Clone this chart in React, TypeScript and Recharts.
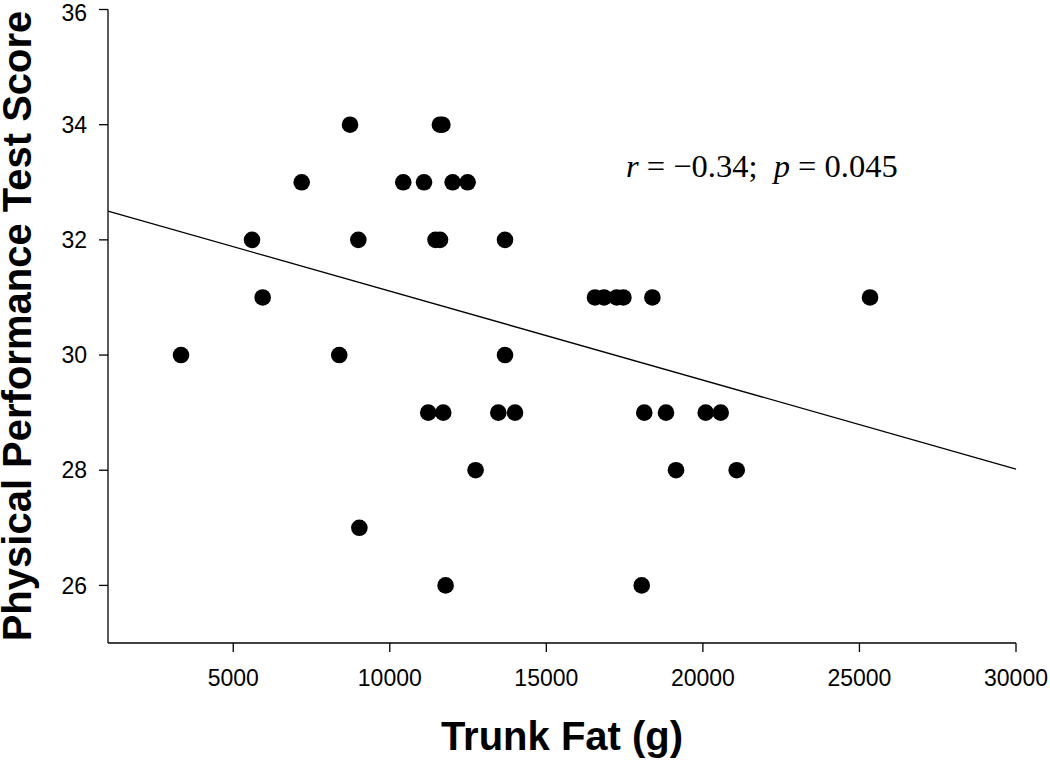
import React from 'react'
import { ScatterChart, Scatter, XAxis, YAxis, ReferenceLine, Label } from 'recharts'

// trunk fat (g) and PPT score
const trunkFat = [
  8730, 11600, 11680,
  7186, 10430, 11093, 12007, 12486,
  5600, 8995, 11460, 11604, 13680,
  5940, 16555, 16843, 17248, 17461, 18387, 25338,
  3332, 8386, 13680,
  11228, 11707, 13466, 14000, 18128, 18822, 20090, 20569,
  12740, 19142, 21080,
  9028,
  11782, 18046,
]
const scores = [
  34, 34, 34,
  33, 33, 33, 33, 33,
  32, 32, 32, 32, 32,
  31, 31, 31, 31, 31, 31, 31,
  30, 30, 30,
  29, 29, 29, 29, 29, 29, 29, 29,
  28, 28, 28,
  27,
  26, 26,
]

const xTicks = [5000, 10000, 15000, 20000, 25000, 30000]
const yTicks = [26, 28, 30, 32, 34, 36]

// fitted regression line end points
const fitLine = [
  { x: 1000, y: 32.5 },
  { x: 30000, y: 28.02 },
]

const points = trunkFat.map((x, i) => ({ x, y: scores[i] }))

const sans = 'Arial, "Liberation Sans", sans-serif'
const serif = '"Times New Roman", "Liberation Serif", serif'

const Dot = (props: any) => <circle cx={props.cx} cy={props.cy} r={8.3} fill="#000" />

export default function App() {
  return (
    <div style={{ position: 'absolute', left: 0, top: 0, width: 1050, height: 761, background: '#fff' }}>
      <ScatterChart width={1050} height={761} margin={{ top: 9.5, right: 34, bottom: 0, left: 0 }}>
        <XAxis
          type="number"
          dataKey="x"
          domain={[1000, 30000]}
          ticks={xTicks}
          allowDataOverflow
          height={118}
          tickSize={9}
          tickMargin={18}
          stroke="#000"
          strokeWidth={1.3}
          tick={{ fill: '#000', fontSize: 23, fontFamily: sans }}
        >
          <Label
            content={() => (
              <text x={562} y={750} textAnchor="middle" fontFamily={sans} fontWeight="bold" fontSize={40} fill="#000">
                Trunk Fat (g)
              </text>
            )}
          />
        </XAxis>
        <YAxis
          type="number"
          dataKey="y"
          domain={[25, 36]}
          ticks={yTicks}
          allowDataOverflow
          width={108}
          tickSize={9}
          tickMargin={12}
          stroke="#000"
          strokeWidth={1.3}
          tick={{ fill: '#000', fontSize: 23, fontFamily: sans }}
        >
          <Label
            content={() => (
              <text
                x={31}
                y={326}
                transform="rotate(-90 31 326)"
                textAnchor="middle"
                fontFamily={sans}
                fontWeight="bold"
                fontSize={40}
                fill="#000"
              >
                Physical Performance Test Score
              </text>
            )}
          />
        </YAxis>
        <ReferenceLine segment={fitLine} stroke="#000" strokeWidth={1.3} />
        <Scatter data={points} shape={Dot} isAnimationActive={false} />
      </ScatterChart>
      <div
        style={{
          position: 'absolute',
          left: 626,
          top: 146,
          fontFamily: serif,
          fontSize: 32.5,
          lineHeight: '40px',
          whiteSpace: 'pre',
          color: '#000',
        }}
      >
        <i>r</i>{' = \u22120.34;  '}<i>p</i>{' = 0.045'}
      </div>
    </div>
  )
}
